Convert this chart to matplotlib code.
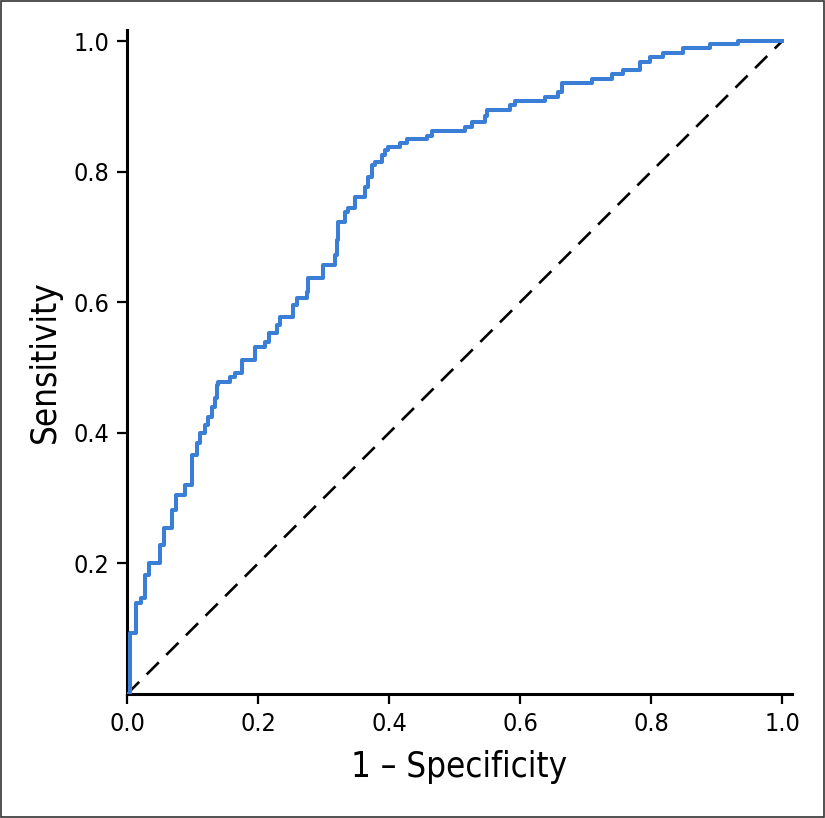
import matplotlib
matplotlib.use("Agg")
import numpy as np
from matplotlib import pyplot as plt
from matplotlib import font_manager
from matplotlib.patches import Rectangle

# prefer a narrow/condensed face if the machine has one
names = {f.name for f in font_manager.fontManager.ttflist}
cond = [f for f in font_manager.fontManager.ttflist if f.stretch in ("condensed", "semi-condensed")]
if "Liberation Sans Narrow" in names:
    plt.rcParams["font.family"] = ["Liberation Sans Narrow", "DejaVu Sans"]
    fs_tick, fs_label = 19, 28
elif cond:
    plt.rcParams["font.family"] = [cond[0].name, "DejaVu Sans"]
    plt.rcParams["font.stretch"] = "condensed"
    fs_tick, fs_label = 18, 25
else:
    plt.rcParams["font.family"] = ["DejaVu Sans"]
    fs_tick, fs_label = 17, 22

# ROC curve (top of each vertical step)
fpr = [0.0, 0.005, 0.014, 0.021, 0.027, 0.034, 0.050, 0.056, 0.069, 0.075,
       0.089, 0.099, 0.107, 0.111, 0.119, 0.124, 0.130, 0.134, 0.137, 0.139,
       0.157, 0.165, 0.176, 0.195, 0.211, 0.216, 0.229, 0.234, 0.253, 0.260,
       0.275, 0.276, 0.299, 0.318, 0.321, 0.322, 0.333, 0.337, 0.348, 0.363,
       0.368, 0.374, 0.379, 0.389, 0.394, 0.398, 0.417, 0.427, 0.458, 0.466,
       0.516, 0.527, 0.547, 0.550, 0.585, 0.592, 0.638, 0.658, 0.664, 0.710,
       0.740, 0.757, 0.783, 0.798, 0.818, 0.849, 0.890, 0.933, 1.0]
tpr = [0.0, 0.093, 0.139, 0.147, 0.182, 0.201, 0.228, 0.254, 0.282, 0.305,
       0.320, 0.366, 0.384, 0.400, 0.412, 0.424, 0.440, 0.453, 0.473, 0.478,
       0.485, 0.492, 0.511, 0.531, 0.539, 0.553, 0.565, 0.577, 0.596, 0.606,
       0.616, 0.637, 0.657, 0.672, 0.695, 0.723, 0.738, 0.744, 0.761, 0.776,
       0.792, 0.810, 0.815, 0.825, 0.833, 0.838, 0.844, 0.850, 0.855, 0.862,
       0.868, 0.876, 0.885, 0.894, 0.902, 0.908, 0.914, 0.922, 0.936, 0.942,
       0.949, 0.956, 0.968, 0.975, 0.982, 0.989, 0.995, 1.0, 1.0]
ref_line = [0.0, 1.0]

x_ticks = [0.0, 0.2, 0.4, 0.6, 0.8, 1.0]
y_ticks = [0.2, 0.4, 0.6, 0.8, 1.0]

fig = plt.figure(figsize=(8.25, 8.18), dpi=100)
ax = fig.add_axes([0.154, 0.1516, 0.806, 0.8117])

ax.plot(fpr, tpr, drawstyle="steps-post", color="#3a7fd5", lw=2.9, zorder=3)
ax.plot(ref_line, ref_line, color="black", lw=1.9, dashes=(6.5, 4), zorder=2)

ax.set_xlim(0, 1.015)
ax.set_ylim(0, 1.017)
ax.set_xticks(x_ticks)
ax.set_xticklabels([f"{t:.1f}" for t in x_ticks])
ax.set_yticks(y_ticks)
ax.set_yticklabels([f"{t:.1f}" for t in y_ticks])

for side in ["top", "right"]:
    ax.spines[side].set_visible(False)
for side in ["left", "bottom"]:
    ax.spines[side].set_linewidth(2.2)
ax.tick_params(direction="out", length=7, width=1.6, labelsize=fs_tick, pad=6)

ax.set_xlabel("1 \u2013 Specificity", fontsize=fs_label, labelpad=10)
ax.set_ylabel("Sensitivity", fontsize=fs_label, labelpad=8)

# thin frame around the whole figure
fig.patches.append(Rectangle((0.001, 0.001), 0.998, 0.998, transform=fig.transFigure,
                             fill=False, edgecolor="#333333", lw=1.2))

fig.savefig("out.png", dpi=100)
